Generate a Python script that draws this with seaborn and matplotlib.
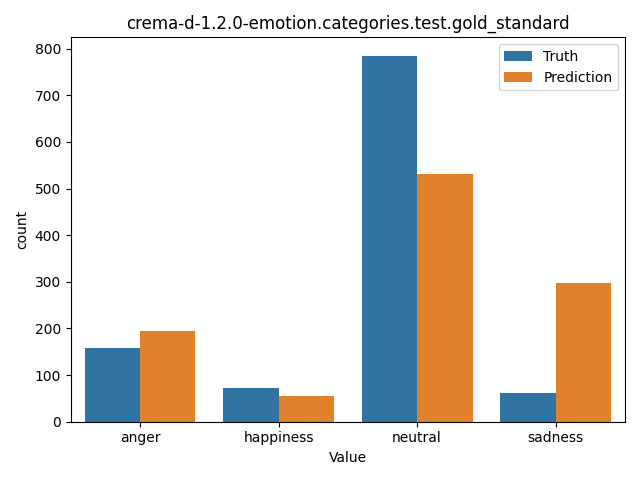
import pandas as pd
import seaborn as sns
import matplotlib
matplotlib.use('Agg')
import matplotlib.pyplot as plt

categories = ['anger', 'happiness', 'neutral', 'sadness']
truth_counts = [159, 73, 785, 62]
pred_counts = [195, 56, 532, 298]

df = pd.DataFrame({
    'Value': categories * 2,
    'count': truth_counts + pred_counts,
    'Source': ['Truth'] * 4 + ['Prediction'] * 4,
})

fig, ax = plt.subplots(figsize=(6.4, 4.8), dpi=100)
sns.barplot(data=df, x='Value', y='count', hue='Source', ax=ax)
ax.legend(title=None)
ax.set_title('crema-d-1.2.0-emotion.categories.test.gold_standard')
plt.tight_layout()
plt.savefig('out.png')
